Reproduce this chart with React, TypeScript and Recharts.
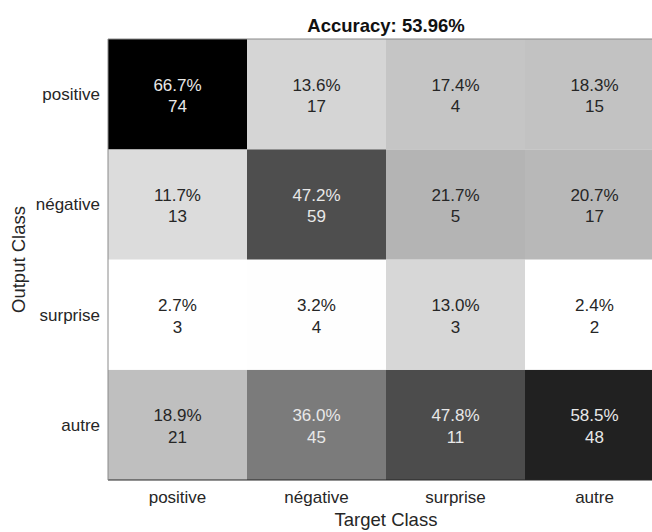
import { BarChart, Bar, XAxis, YAxis, Cell, LabelList, ReferenceLine } from 'recharts'

const targetClasses = ['positive', 'négative', 'surprise', 'autre']
const outputClasses = ['positive', 'négative', 'surprise', 'autre']

// counts and column percentages, one array per output class (row), columns = target class
const positiveCounts = [74, 17, 4, 15]
const positivePct = [66.7, 13.6, 17.4, 18.3]
const negativeCounts = [13, 59, 5, 17]
const negativePct = [11.7, 47.2, 21.7, 20.7]
const surpriseCounts = [3, 4, 3, 2]
const surprisePct = [2.7, 3.2, 13.0, 2.4]
const autreCounts = [21, 45, 11, 48]
const autrePct = [18.9, 36.0, 47.8, 58.5]

const accuracy = 53.96

const rowCounts = [positiveCounts, negativeCounts, surpriseCounts, autreCounts]
const rowPct = [positivePct, negativePct, surprisePct, autrePct]

// one unit-high stacked segment per output class, in each target column
const data = targetClasses.map((name) => ({ name, r0: 1, r1: 1, r2: 1, r3: 1 }))

const FONT = '"Liberation Sans", Arial, Helvetica, sans-serif'
const TEXT = '#262626'

function grayLevel(pct: number) {
  return Math.max(0, Math.min(255, Math.round(255 - 4 * (pct - 3))))
}

function grayFor(pct: number) {
  const v = grayLevel(pct)
  return `rgb(${v},${v},${v})`
}

function cellLabel(row: number) {
  return (props: any) => {
    const vb = props.viewBox || {}
    const x = props.x ?? vb.x
    const y = props.y ?? vb.y
    const w = props.width ?? vb.width
    const h = props.height ?? vb.height
    const col = props.index
    const pct = rowPct[row][col]
    const cx = x + w / 2
    const cy = y + h / 2
    const fill = grayLevel(pct) < 128 ? '#e8e8e8' : TEXT
    return (
      <g>
        <text x={cx} y={cy - 3.5} textAnchor="middle" fontSize={17} fontFamily={FONT} fill={fill}>
          {pct.toFixed(1)}%
        </text>
        <text x={cx} y={cy + 18} textAnchor="middle" fontSize={17} fontFamily={FONT} fill={fill}>
          {rowCounts[row][col]}
        </text>
      </g>
    )
  }
}

// stacking goes bottom-up, so the last output class is drawn first
const stackOrder = [3, 2, 1, 0]

export default function App() {
  return (
    <div
      style={{
        position: 'absolute',
        left: 0,
        top: 0,
        width: 652,
        height: 532,
        overflow: 'hidden',
        background: '#fff',
      }}
    >
      <BarChart
        width={680}
        height={532}
        data={data}
        margin={{ top: 39, right: 16, bottom: 0, left: 0 }}
        barCategoryGap={0}
        barGap={0}
      >
        <XAxis
          dataKey="name"
          height={52}
          tickLine={false}
          tickMargin={5}
          axisLine={{ stroke: TEXT }}
          tick={{ fontSize: 17, fill: TEXT, fontFamily: FONT }}
        />
        <YAxis
          type="number"
          width={108}
          domain={[0, 4]}
          ticks={[0.5, 1.5, 2.5, 3.5]}
          tickFormatter={(v: number) => outputClasses[3 - Math.floor(v)]}
          tickLine={false}
          axisLine={{ stroke: '#8a8a8a' }}
          tick={{ fontSize: 17, fill: TEXT, fontFamily: FONT }}
        />
        {stackOrder.map((row) => (
          <Bar key={row} dataKey={`r${row}`} stackId="cm" isAnimationActive={false}>
            {targetClasses.map((c, col) => (
              <Cell key={c} fill={grayFor(rowPct[row][col])} />
            ))}
            <LabelList dataKey={`r${row}`} content={cellLabel(row)} />
          </Bar>
        ))}
        <ReferenceLine y={4} stroke="#8a8a8a" />
        <text
          x={386}
          y={32}
          textAnchor="middle"
          fontSize={18.5}
          fontWeight="bold"
          fontFamily={FONT}
          fill="#111"
        >
          Accuracy: {accuracy.toFixed(2)}%
        </text>
        <text x={386} y={526} textAnchor="middle" fontSize={18.5} fontFamily={FONT} fill={TEXT}>
          Target Class
        </text>
        <text
          x={25}
          y={259.5}
          transform="rotate(-90 25 259.5)"
          textAnchor="middle"
          fontSize={18.5}
          fontFamily={FONT}
          fill={TEXT}
        >
          Output Class
        </text>
      </BarChart>
    </div>
  )
}
